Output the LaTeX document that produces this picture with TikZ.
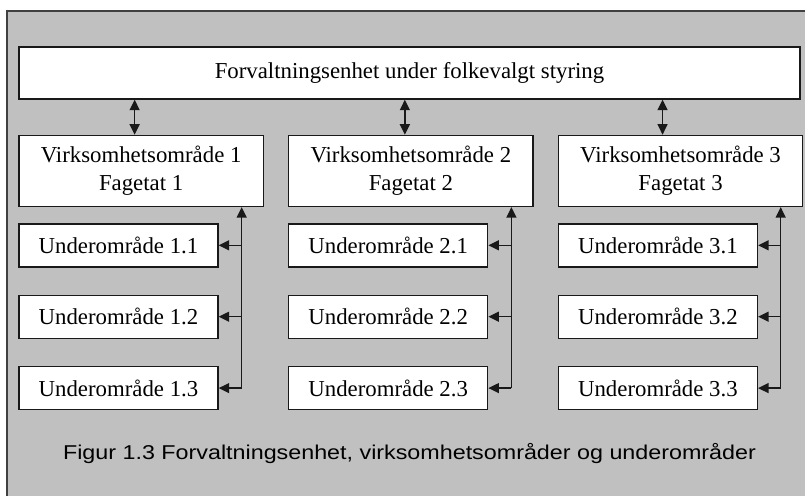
\documentclass[tikz,border=0pt]{standalone}
\usepackage{graphicx}
\usepackage{fontspec}
\setmainfont{Liberation Serif}
\newfontfamily\capfont{Liberation Sans}
\usepackage{tikz}
\usetikzlibrary{arrows.meta, positioning, calc}
\definecolor{panelgray}{RGB}{192,192,192}
\definecolor{framedark}{RGB}{64,64,64}
\definecolor{boxline}{RGB}{25,25,25}
\tikzset{
  basebox/.style={rectangle,draw=boxline,fill=white,line width=1.4pt,align=center,inner sep=0pt,font=\fontsize{22.8}{28.5}\selectfont},
  topnode/.style={basebox,minimum width=781pt,minimum height=52pt},
  areanode/.style={basebox,minimum width=244.3pt,minimum height=71pt},
  subnode/.style={basebox,minimum width=199pt,minimum height=43pt},
  capnode/.style={inner sep=0pt,text=black,font=\capfont\fontsize{20}{22}\selectfont},
  dblarr/.style={{Triangle[length=10.5pt,width=10pt]}-{Triangle[length=10.5pt,width=10pt]},line width=1.3pt,color=boxline},
  arr/.style={-{Triangle[length=10.5pt,width=10pt]},line width=1.3pt,color=boxline}
}

\begin{document}
\begin{tikzpicture}[x=1pt,y=-1pt]
  \useasboundingbox (0,0) rectangle (805,496);
  %% panel
  \fill[white] (0,0) rectangle (805,496);
  \fill[panelgray] (7,11) rectangle (805,496);
  \draw[framedark,line width=1.8pt] (7,496) -- (7,11) -- (805,11);

  %% Top: administrative unit
  \node[topnode] (top) at (409.5,73) {Forvaltningsenhet under folkevalgt styring};

  %% Business areas
  \node[areanode,below right=35pt and 0pt of top.south west] (vo1)
    {Virksomhetsområde 1\\Fagetat 1};
  \node[areanode,right=24pt of vo1] (vo2)
    {Virksomhetsområde 2\\Fagetat 2};
  \node[areanode,right=24pt of vo2] (vo3)
    {Virksomhetsområde 3\\Fagetat 3};

  %% Sub-areas
  \node[subnode,below right=16pt and 0pt of vo1.south west] (u11) {Underområde 1.1};
  \node[subnode,below right=27pt and 0pt of u11.south west] (u12) {Underområde 1.2};
  \node[subnode,below right=27pt and 0pt of u12.south west] (u13) {Underområde 1.3};
  \node[subnode,below right=16pt and 0pt of vo2.south west] (u21) {Underområde 2.1};
  \node[subnode,below right=27pt and 0pt of u21.south west] (u22) {Underområde 2.2};
  \node[subnode,below right=27pt and 0pt of u22.south west] (u23) {Underområde 2.3};
  \node[subnode,below right=16pt and 0pt of vo3.south west] (u31) {Underområde 3.1};
  \node[subnode,below right=27pt and 0pt of u31.south west] (u32) {Underområde 3.2};
  \node[subnode,below right=27pt and 0pt of u32.south west] (u33) {Underområde 3.3};

  %% Caption
  \node[capnode,anchor=base] (cap) at (409.5,459)
    {\scalebox{1.165}[1]{Figur 1.3 Forvaltningsenhet, virksomhetsområder og underområder}};

  %% Arrows top <-> areas
  \draw[dblarr] ([xshift=-6.5pt]vo1.north) -- ([xshift=-6.5pt]vo1.north |- top.south);
  \draw[dblarr] ([xshift=-6pt]vo2.north) -- ([xshift=-6pt]vo2.north |- top.south);
  \draw[dblarr] ([xshift=-18pt]vo3.north) -- ([xshift=-18pt]vo3.north |- top.south);

  %% Trunks
  \draw[arr] ([xshift=23pt]u13.east) -- ([xshift=23pt]u13.east |- vo1.south);
  \draw[arr] ([xshift=23pt]u23.east) -- ([xshift=23pt]u23.east |- vo2.south);
  \draw[arr] ([xshift=22.6pt]u33.east) -- ([xshift=22.6pt]u33.east |- vo3.south);

  %% Branches
  \draw[arr] ([xshift=23pt]u11.east) -- (u11.east);
  \draw[arr] ([xshift=23pt]u12.east) -- (u12.east);
  \draw[arr] ([xshift=23pt]u13.east) -- (u13.east);
  \draw[arr] ([xshift=23pt]u21.east) -- (u21.east);
  \draw[arr] ([xshift=23pt]u22.east) -- (u22.east);
  \draw[arr] ([xshift=23pt]u23.east) -- (u23.east);
  \draw[arr] ([xshift=22.6pt]u31.east) -- (u31.east);
  \draw[arr] ([xshift=22.6pt]u32.east) -- (u32.east);
  \draw[arr] ([xshift=22.6pt]u33.east) -- (u33.east);
\end{tikzpicture}
\end{document}
